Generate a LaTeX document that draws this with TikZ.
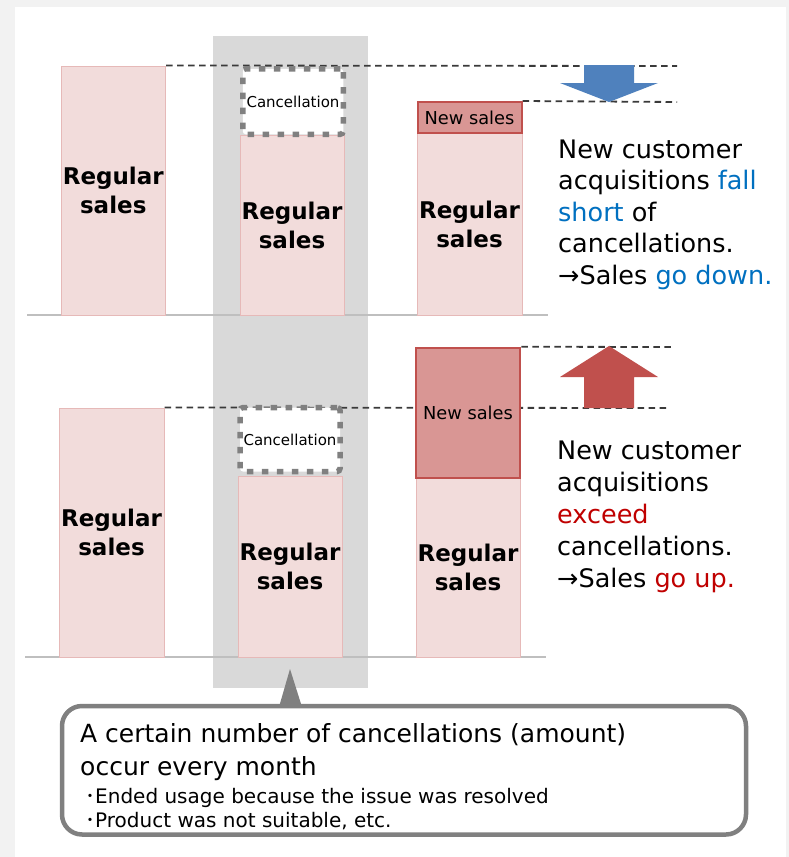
\documentclass[tikz,border=0pt]{standalone}
\usepackage{fontspec}
\setmainfont{DejaVu Sans}
\newfontfamily\cjk{Noto Sans CJK JP}
\usetikzlibrary{calc}
\definecolor{outerbg}{HTML}{F2F2F2}
\definecolor{colgray}{HTML}{D9D9D9}
\definecolor{barfill}{HTML}{F2DCDB}
\definecolor{barline}{HTML}{E6B9B8}
\definecolor{newfill}{HTML}{D99694}
\definecolor{newline}{HTML}{C0504D}
\definecolor{dotgray}{HTML}{808080}
\definecolor{dashgray}{HTML}{3A3A3A}
\definecolor{groundgray}{HTML}{BFBFBF}
\definecolor{arrowblue}{HTML}{4F81BD}
\definecolor{arrowred}{HTML}{C0504D}
\definecolor{txtblue}{HTML}{0070C0}
\definecolor{txtred}{HTML}{C00000}
\pgfdeclarelayer{colayer}
\pgfdeclarelayer{guidelayer}
\pgfsetlayers{colayer,guidelayer,main}
\begin{document}
\begin{tikzpicture}[x=1pt,y=-1pt,
  regbar/.style={draw=barline, fill=barfill, line width=1pt, inner sep=0pt, align=center,
    font=\fontsize{23pt}{29pt}\selectfont\bfseries},
  newbox/.style={draw=newline, fill=newfill, line width=2pt, inner sep=0pt,
    font=\fontsize{17.8pt}{20pt}\selectfont},
  cancelbox/.style={draw=dotgray, fill=white, line width=5.5pt, dash pattern=on 6.5pt off 8.5pt,
    rounded corners=3pt, inner sep=0pt, font=\fontsize{15pt}{18pt}\selectfont},
  dashline/.style={draw=dashgray, line width=1.8pt, dash pattern=on 6.5pt off 4.5pt},
  groundline/.style={draw=groundgray, line width=2pt},
  sidetext/.style={anchor=base west, inner sep=0pt, font=\fontsize{25.5pt}{30pt}\selectfont},
  notetext/.style={anchor=base west, inner sep=0pt, font=\fontsize{25pt}{30pt}\selectfont},
  notesmall/.style={anchor=base west, inner sep=0pt, font=\fontsize{20pt}{24pt}\selectfont}
]
\useasboundingbox (0,0) rectangle (789,857);

% ---------- bars (main layer) ----------
% top panel
\node[regbar, minimum width=104.5pt, minimum height=249pt] (b1) at (113.25,190.5) {Regular\\sales};
\node[regbar, minimum width=104pt, minimum height=180pt] (r2) at (292,225) {Regular\\sales};
\node[cancelbox, minimum width=100.5pt, minimum height=65.5pt] (c2) at (293,101.5) {Cancellation};
\node[regbar, minimum width=105pt, minimum height=182pt] (r3) at (469.5,224) {Regular\\sales};
\node[newbox, minimum width=104pt, minimum height=31pt] (ns3) at (469.5,117.5) {New sales};
% bottom panel
\node[regbar, minimum width=105pt, minimum height=249pt] (lb1) at (111.5,532.5) {Regular\\sales};
\node[regbar, minimum width=104pt, minimum height=181pt] (lr2) at (290,566.5) {Regular\\sales};
\node[cancelbox, minimum width=100pt, minimum height=64pt] (lc2) at (290,439.5) {Cancellation};
\node[regbar, minimum width=104pt, minimum height=179pt] (lr3) at (468,567.5) {Regular\\sales};
\node[newbox, line width=2.5pt, minimum width=104pt, minimum height=130pt] (lns3) at (468,413) {New sales};

% ---------- background layer ----------
\begin{pgfonlayer}{colayer}
  \fill[outerbg] (0,0) rectangle (789,857);
  \fill[white] (15,7) rectangle (786,857);
  \node[fill=colgray, inner sep=0pt, minimum width=155pt, minimum height=652pt] (col) at (290.5,362) {};
  \coordinate (g1a) at (27,315);
  \coordinate (g1b) at (548,315);
  \coordinate (g2a) at (25,657);
  \coordinate (g2b) at (546,657);
  \draw[groundline] (g1a) -- (g1b);
  \draw[groundline] (g2a) -- (g2b);
\end{pgfonlayer}

% ---------- guide lines ----------
\coordinate (e1) at (677,66);
\coordinate (e2) at (677,102);
\coordinate (e3) at (670,408);
\coordinate (e4) at (675,347);
\begin{pgfonlayer}{guidelayer}
  \draw[dashline] (b1.north east) -- (e1);
  \draw[dashline] (ns3.north east) -- (e2);
  \draw[dashline] (lb1.north east) -- (e3);
  \draw[dashline] (lns3.north east) -- (e4);
\end{pgfonlayer}

% ---------- big arrows ----------
\fill[arrowblue] (584,65) -- (634,65) -- (634,83) -- (658,83) -- (609,102) -- (560,83) -- (584,83) -- cycle;
\fill[arrowred] (584,408) -- (634,408) -- (634,377) -- (658,377) -- (609,346) -- (560,377) -- (584,377) -- cycle;

% ---------- side texts ----------
\node[sidetext] (ta1) at (558,158) {New customer};
\node[sidetext] (ta2) at (558,189.5) {acquisitions \textcolor{txtblue}{fall}};
\node[sidetext] (ta3) at (558,221) {\textcolor{txtblue}{short} of};
\node[sidetext] (ta4) at (558,252.5) {cancellations.};
\node[sidetext] (ta5) at (558,284) {→Sales \textcolor{txtblue}{go down.}};

\node[sidetext] (tb1) at (557,459.3) {New customer};
\node[sidetext] (tb2) at (557,491) {acquisitions};
\node[sidetext] (tb3) at (557,523) {\textcolor{txtred}{exceed}};
\node[sidetext] (tb4) at (557,555) {cancellations.};
\node[sidetext] (tb5) at (557,587) {→Sales \textcolor{txtred}{go up.}};

% ---------- callout ----------
\coordinate (tip) at (290,669);
\begin{pgfonlayer}{guidelayer}
  \fill[dotgray] ($(tip)+(-11,38)$) -- (tip) -- ($(tip)+(12,38)$) -- cycle;
\end{pgfonlayer}
\node[draw=dotgray, fill=white, line width=4.5pt, rounded corners=20pt, inner sep=0pt,
  minimum width=684pt, minimum height=128.5pt] (callout) at (404,770.25) {};
\node[notetext] (cl1) at (80,742) {A certain number of cancellations (amount)};
\node[notetext] (cl2) at (80,775) {occur every month};
\node[notesmall] (cl3) at (85,803) {{\cjk ･}Ended usage because the issue was resolved};
\node[notesmall] (cl4) at (85,827) {{\cjk ･}Product was not suitable, etc.};
\end{tikzpicture}
\end{document}
